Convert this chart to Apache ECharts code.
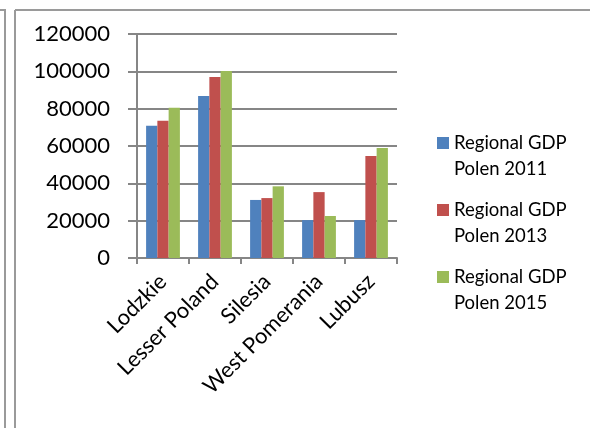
<!DOCTYPE html>
<html>
<head>
<meta charset="utf-8">
<script src="https://cdn.jsdelivr.net/npm/echarts@6/dist/echarts.min.js"></script>
<style>
html, body { margin: 0; padding: 0; background: #fff; }
#chart { width: 590px; height: 428px; }
</style>
</head>
<body>
<div id="chart"></div>
<script>
var regions = ['Lodzkie', 'Lesser Poland', 'Silesia', 'West Pomerania', 'Lubusz'];
var seriesNames = ['Regional GDP\nPolen 2011', 'Regional GDP\nPolen 2013', 'Regional GDP\nPolen 2015'];
var gdp2011 = [70900, 86800, 31100, 20300, 20300];
var gdp2013 = [73500, 97000, 32100, 35300, 54600];
var gdp2015 = [80500, 100200, 38400, 22500, 58900];
var colors = ['#4F81BD', '#C0504D', '#9BBB59'];

var font = 'Lato';
var myChart = echarts.init(document.getElementById('chart'));

// square at the top of a taller box, so it lines up with the first text line
var legendIcon = 'path://M0,0L12,0L12,12L0,12ZM0,38L12,38';

option = {
    animation: false,
    color: colors,
    textStyle: { fontFamily: font },
    grid: { left: 137, top: 34, right: 193, bottom: 170, containLabel: false },
    legend: {
        orient: 'vertical',
        left: 437,
        top: 130,
        padding: 0,
        itemWidth: 12,
        itemHeight: 38,
        itemGap: 15,
        icon: legendIcon,
        textStyle: { fontFamily: font, fontSize: 18.5, color: '#000', lineHeight: 26 },
        data: seriesNames
    },
    xAxis: {
        type: 'category',
        data: regions,
        axisLine: { lineStyle: { color: '#868686', width: 2 } },
        axisTick: { show: true, length: 6, lineStyle: { color: '#868686', width: 2 } },
        axisLabel: { rotate: 45, fontSize: 22, color: '#000', margin: 20, interval: 0 }
    },
    yAxis: {
        type: 'value',
        min: 0,
        max: 120000,
        interval: 20000,
        axisLine: { show: true, lineStyle: { color: '#868686', width: 2 } },
        axisTick: { show: true, length: 9, lineStyle: { color: '#868686', width: 2 } },
        splitLine: { lineStyle: { color: '#868686', width: 2 } },
        axisLabel: { fontSize: 22, color: '#000', margin: 27, formatter: function (v) { return String(v); } }
    },
    graphic: [
        { type: 'line', shape: { x1: 0, y1: 10, x2: 6, y2: 10 }, style: { stroke: '#9a9a9a', lineWidth: 2 } },
        { type: 'line', shape: { x1: 5, y1: 10, x2: 5, y2: 428 }, style: { stroke: '#9a9a9a', lineWidth: 2 } },
        { type: 'line', shape: { x1: 15, y1: 10, x2: 590, y2: 10 }, style: { stroke: '#9a9a9a', lineWidth: 2 } },
        { type: 'line', shape: { x1: 15, y1: 10, x2: 15, y2: 428 }, style: { stroke: '#9a9a9a', lineWidth: 2 } }
    ],
    series: [
        { name: seriesNames[0], type: 'bar', data: gdp2011, barGap: '0%', barCategoryGap: '35%' },
        { name: seriesNames[1], type: 'bar', data: gdp2013, barGap: '0%', barCategoryGap: '35%' },
        { name: seriesNames[2], type: 'bar', data: gdp2015, barGap: '0%', barCategoryGap: '35%' }
    ]
};

myChart.setOption(option);
</script>
</body>
</html>
